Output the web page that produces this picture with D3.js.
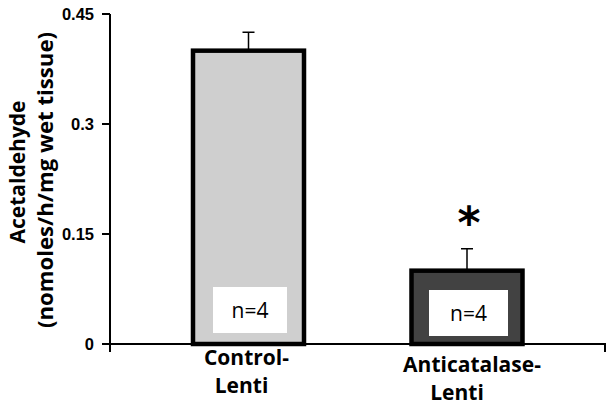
<!DOCTYPE html>
<html><head><meta charset="utf-8">
<script src="https://cdn.jsdelivr.net/npm/d3@7"></script>
<style>body{margin:0;background:#fff}svg{display:block}</style>
</head><body>
<svg id="c" width="612" height="407"></svg>
<script>
const categories = [["Control-","Lenti"],["Anticatalase-","Lenti"]];
const values = [0.40, 0.10];
const errors = [0.025, 0.03];
const nLabels = ["n=4","n=4"];
const fills = ["#cfcfcf","#424242"];
const yTicks = [0, 0.15, 0.3, 0.45];
const yTickLabels = ["0","0.15","0.3","0.45"];
const sigMarks = ["", "*"];

const svg = d3.select("#c");
const y = d3.scaleLinear().domain([0,0.45]).range([344,14]);
const x = d3.scaleLinear().domain([0,1]).range([248.5,467]);
const barW = 111;

// y axis
svg.append("line").attr("x1",110).attr("x2",110).attr("y1",y(0.45)).attr("y2",y(0)+8)
  .attr("stroke","#000").attr("stroke-width",2);
svg.selectAll(".yt").data(yTicks).join("line")
  .attr("x1",102).attr("x2",110).attr("y1",d=>y(d)).attr("y2",d=>y(d))
  .attr("stroke","#000").attr("stroke-width",2);
svg.selectAll(".yl").data(yTicks).join("text")
  .attr("x",94).attr("y",d=>y(d)+5.5).attr("text-anchor","end")
  .attr("font-family","Liberation Sans, Arial, sans-serif").attr("font-weight","bold")
  .attr("font-size",16.5).text((d,i)=>yTickLabels[i]);

// axis title
const tg = svg.append("g").attr("transform","translate(0,176) rotate(-90)");
tg.append("text").attr("x",4).attr("y",25).attr("text-anchor","middle")
  .attr("font-family","Open Sans, sans-serif").attr("font-weight","bold").attr("font-size",21)
  .text("Acetaldehyde");
tg.append("text").attr("x",-4).attr("y",53).attr("text-anchor","middle")
  .attr("font-family","Open Sans, sans-serif").attr("font-weight","bold").attr("font-size",21)
  .attr("textLength",296).attr("lengthAdjust","spacingAndGlyphs")
  .text("(nomoles/h/mg wet tissue)");

// bars
svg.selectAll(".bar").data(values).join("rect")
  .attr("x",(d,i)=>x(i)-barW/2).attr("width",barW)
  .attr("y",d=>y(d)).attr("height",d=>y(0)-y(d))
  .attr("fill",(d,i)=>fills[i]).attr("stroke","#000").attr("stroke-width",4.5);

// error bars
svg.selectAll(".err").data(values).join("path")
  .attr("d",(d,i)=>`M${x(i)},${y(d)} V${y(d+errors[i])} M${x(i)-6},${y(d+errors[i])} H${x(i)+6}`)
  .attr("stroke","#000").attr("stroke-width",1.5).attr("fill","none");

// x axis
svg.append("path").attr("d",`M110,${y(0)} H605 V${y(0)+8}`)
  .attr("stroke","#000").attr("stroke-width",2).attr("fill","none");

// n boxes
const boxes = [{x0:213,x1:287,y0:287,y1:333},{x0:429,x1:508,y0:290,y1:336}];
svg.selectAll(".nb").data(boxes).join("rect")
  .attr("x",d=>d.x0).attr("y",d=>d.y0).attr("width",d=>d.x1-d.x0).attr("height",d=>d.y1-d.y0)
  .attr("fill","#fff");
svg.selectAll(".nt").data(nLabels).join("text")
  .attr("x",(d,i)=>(boxes[i].x0+boxes[i].x1)/2).attr("y",(d,i)=>(boxes[i].y0+boxes[i].y1)/2+8)
  .attr("text-anchor","middle").attr("font-family","Open Sans, sans-serif").attr("font-size",21)
  .text(d=>d);

// significance
svg.selectAll(".sig").data(sigMarks).join("text")
  .attr("x",(d,i)=>x(i)+2).attr("y",(d,i)=>y(values[i]+errors[i])-11)
  .attr("text-anchor","middle").attr("font-family","DejaVu Sans, sans-serif")
  .attr("font-weight","bold").attr("font-size",44).text(d=>d);

// category labels
const lineDx = [[-2,-7],[5,-10]];
const base = [365, 372];
categories.forEach((c,i)=>{
  c.forEach((line,j)=>{
    svg.append("text").attr("x",x(i)+lineDx[i][j]).attr("y",base[i]+j*28)
      .attr("text-anchor","middle").attr("font-family","Open Sans, sans-serif")
      .attr("font-weight","bold").attr("font-size",21).text(line);
  });
});
</script>
</body></html>
